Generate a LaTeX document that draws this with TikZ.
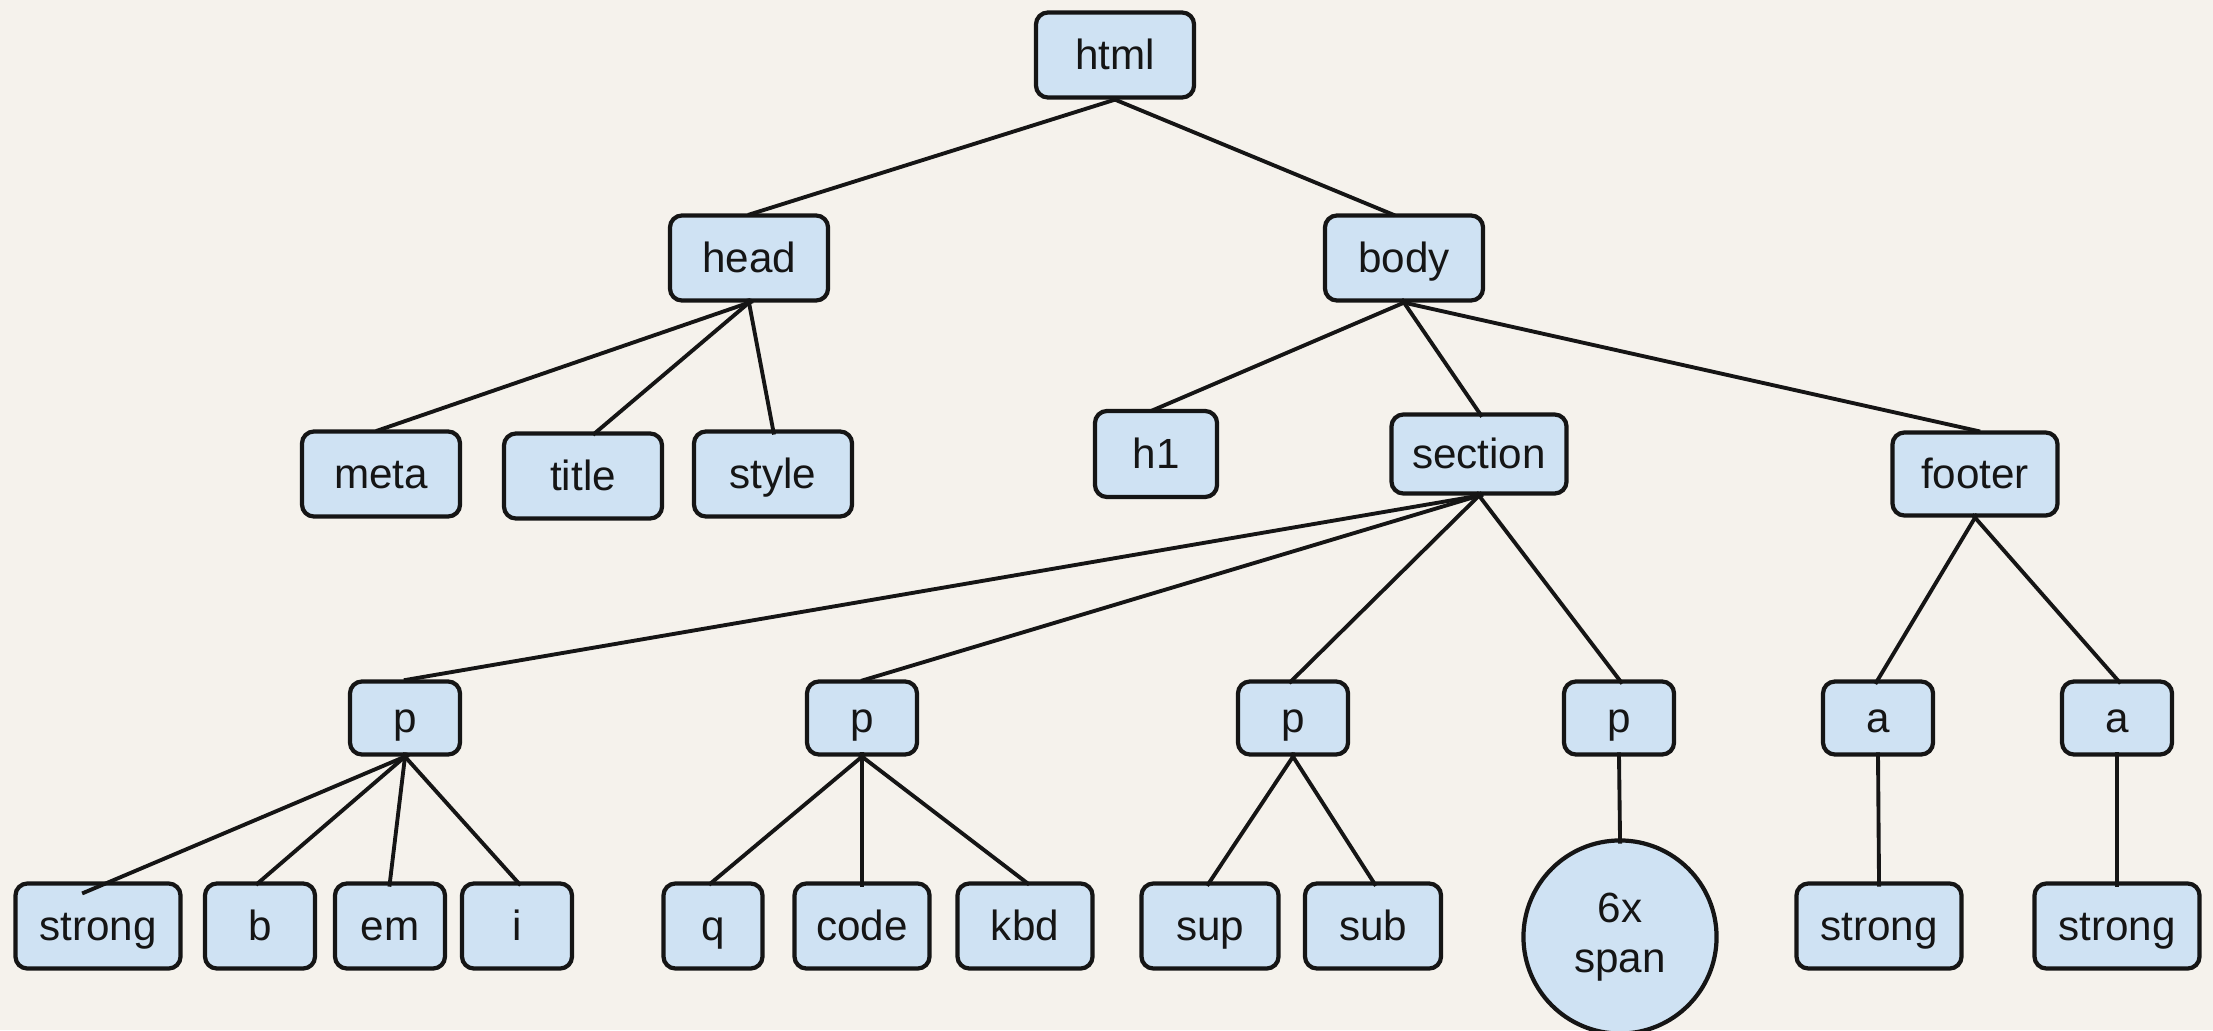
\documentclass[tikz,border=0pt]{standalone}
\usepackage{fontspec}
\setmainfont{Liberation Sans}
\definecolor{bgc}{HTML}{F5F2EC}
\definecolor{boxc}{HTML}{CFE2F3}
\definecolor{inkc}{HTML}{151515}
\begin{document}
\begin{tikzpicture}[x=0.01cm,y=-0.01cm,
  tnode/.style={draw=inkc,fill=boxc,line width=1.2pt,rounded corners=0.12cm,
    inner sep=0pt,minimum height=0.85cm,text=inkc,text height=0.32cm,text depth=0.04cm,
    font=\fontsize{12}{14.4}\selectfont},
  pnode/.style={tnode,minimum width=1.10cm,minimum height=0.73cm},
  cnode/.style={draw=inkc,fill=boxc,line width=1.2pt,circle,inner sep=0pt,
    minimum size=1.93cm,align=center,text=inkc,font=\fontsize{12}{14.4}\selectfont},
  edge/.style={draw=inkc,line width=1.1pt,shorten <=-1.2pt,shorten >=-1.5pt}]
\fill[bgc] (0,0) rectangle (2213,1030);
\useasboundingbox (0,0) rectangle (2213,1030);
% row 0
\node[tnode,minimum width=1.58cm] (html) at (1115,55) {html};
% row 1
\node[tnode,minimum width=1.58cm] (head) at (749,258) {head};
\node[tnode,minimum width=1.58cm] (body) at (1404,258) {body};
% row 2
\node[tnode,minimum width=1.58cm] (meta) at (381,474) {meta};
\node[tnode,minimum width=1.58cm] (title) at (583,476) {title};
\node[tnode,minimum width=1.58cm] (style) at (773,474) {style};
\node[tnode,minimum width=1.22cm,minimum height=0.86cm] (h1) at (1156,454) {h1};
\node[tnode,minimum width=1.75cm,minimum height=0.79cm] (section) at (1479,454) {section};
\node[tnode,minimum width=1.65cm,minimum height=0.83cm] (footer) at (1975,474) {footer};
% row 3
\node[pnode] (p1) at (405,718) {p};
\node[pnode] (p2) at (862,718) {p};
\node[pnode] (p3) at (1293,718) {p};
\node[pnode] (p4) at (1619,718) {p};
\node[pnode] (a1) at (1878,718) {a};
\node[pnode] (a2) at (2117,718) {a};
% row 4
\node[tnode,minimum width=1.65cm] (strongA) at (98,926) {strong};
\node[tnode,minimum width=1.10cm] (b) at (260,926) {b};
\node[tnode,minimum width=1.10cm] (em) at (390,926) {em};
\node[tnode,minimum width=1.10cm] (i) at (517,926) {i};
\node[tnode,minimum width=0.99cm] (q) at (713,926) {q};
\node[tnode,minimum width=1.35cm] (code) at (862,926) {code};
\node[tnode,minimum width=1.35cm] (kbd) at (1025,926) {kbd};
\node[tnode,minimum width=1.37cm] (sup) at (1210,926) {sup};
\node[tnode,minimum width=1.36cm] (sub) at (1373,926) {sub};
\node[cnode] (span) at (1620,937) {6x\\span};
\node[tnode,minimum width=1.65cm] (strongB) at (1879,926) {strong};
\node[tnode,minimum width=1.65cm] (strongC) at (2117,926) {strong};
% edges
\draw[edge] (html.south) -- ([xshift=0.04cm]head.north);
\draw[edge] (html.south) -- ([xshift=-0.14cm]body.north);
\draw[edge] (head.south) -- (meta.north);
\draw[edge] (head.south) -- ([xshift=0.14cm]title.north);
\draw[edge] (head.south) -- (style.north);
\draw[edge] (body.south) -- (h1.north);
\draw[edge] (body.south) -- (section.north);
\draw[edge] (body.south) -- (footer.north);
\draw[edge] (section.south) -- ([xshift=0.04cm]p1.north);
\draw[edge] (section.south) -- ([xshift=0.04cm]p2.north);
\draw[edge] (section.south) -- (p3.north);
\draw[edge] (section.south) -- (p4.north);
\draw[edge] (footer.south) -- (a1.north);
\draw[edge] (footer.south) -- (a2.north);
\draw[edge] (p1.south) -- ([xshift=-0.11cm,yshift=-0.1cm]strongA.north);
\draw[edge] (p1.south) -- (b.north);
\draw[edge] (p1.south) -- (em.north);
\draw[edge] (p1.south) -- (i.north);
\draw[edge] (p2.south) -- (q.north);
\draw[edge] (p2.south) -- (code.north);
\draw[edge] (p2.south) -- (kbd.north);
\draw[edge] (p3.south) -- (sup.north);
\draw[edge] (p3.south) -- (sub.north);
\draw[edge] (p4.south) -- (span.north);
\draw[edge] (a1.south) -- (strongB.north);
\draw[edge] (a2.south) -- (strongC.north);
\end{tikzpicture}
\end{document}
